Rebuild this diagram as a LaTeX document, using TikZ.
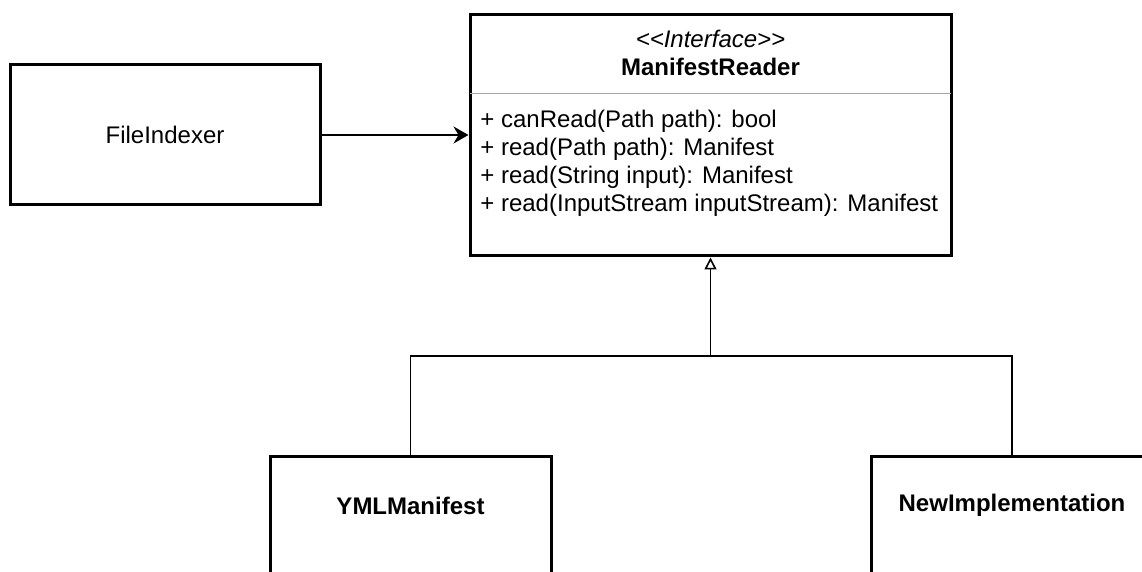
\documentclass[tikz,border=0pt]{standalone}
\usepackage{fontspec}
\setmainfont{Liberation Sans}
\usetikzlibrary{arrows.meta,positioning,calc}
\tikzset{
  cls/.style  = {draw=black, line width=1.5pt, fill=white, inner sep=0pt},
  txt/.style  = {font=\fontsize{12}{14}\selectfont, inner sep=3pt, align=center},
  ops/.style  = {font=\fontsize{12}{14}\selectfont, inner sep=3pt, align=left},
  sep/.style  = {draw=black!35, line width=0.5pt},
  arr/.style  = {-{Stealth[length=7.5pt, width=8.5pt, inset=2.5pt]}, draw=black, line width=0.8pt},
  gen/.style  = {-{Triangle[open, length=6pt, width=6pt]}, draw=black, line width=0.8pt},
  lnk/.style  = {draw=black, line width=0.8pt},
}
\begin{document}
\begin{tikzpicture}[x=0.5pt, y=-0.5pt]
  \useasboundingbox (0,0) rectangle (1142,572);
  \node[cls, txt, minimum width=155pt, minimum height=70pt] (fi) at (165,135) {FileIndexer};
  \node[cls, minimum width=240.5pt, minimum height=120.5pt] (mr) at (710.5,135.5) {};
  \node[txt] (mr-head) at (710.5,52.5) {\textit{<\kern0pt<Interface>\kern0pt>}\\\textbf{ManifestReader}};
  \draw[sep] ([xshift=0.75pt]mr.west |- 0,94) -- ([xshift=-0.75pt]mr.east |- 0,94);
  \node[ops, anchor=west] (mr-ops) at (474,163) {+ canRead(Path path): bool\\+ read(Path path): Manifest\\+ read(String input): Manifest\\+ read(InputStream inputStream): Manifest};
  \node[cls, minimum width=140.5pt, minimum height=70pt] (yml) at (410.5,527) {};
  \node[txt, font=\fontsize{12}{14}\selectfont\bfseries] (yml-name) at ($(yml.north)+(0,50)$) {YMLManifest};
  \node[cls, minimum width=141pt, minimum height=70pt] (ni) at (1012,527) {};
  \node[txt, font=\fontsize{12}{14}\selectfont\bfseries] (ni-name) at ($(ni.north)+(0,50)$) {NewImplementation};
  \coordinate (jn) at (710.5,356);
  \draw[arr] (fi.east) -- (fi.east -| mr.west);
  \draw[gen] (jn) -- (mr.south);
  \draw[lnk] (yml.north) |- (jn) -| (ni.north);
\end{tikzpicture}
\end{document}
